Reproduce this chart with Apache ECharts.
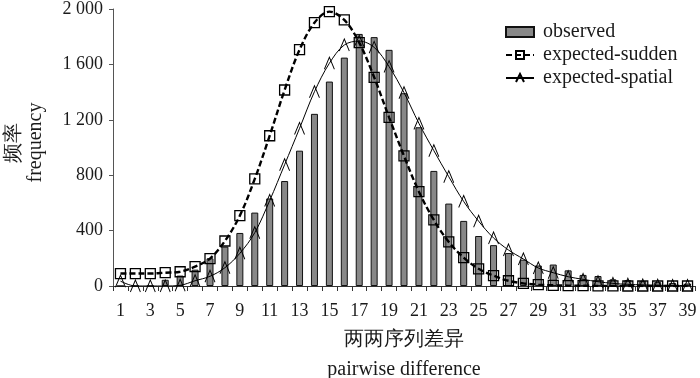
<!DOCTYPE html>
<html>
<head>
<meta charset="utf-8">
<script src="https://cdn.jsdelivr.net/npm/echarts@6/dist/echarts.min.js"></script>
<style>
html,body{margin:0;padding:0;background:#fff;}
#chart{width:700px;height:378px;}
</style>
</head>
<body>
<div id="chart"></div>
<script>
var categories = ['1','2','3','4','5','6','7','8','9','10','11','12','13','14','15','16','17','18','19','20','21','22','23','24','25','26','27','28','29','30','31','32','33','34','35','36','37','38','39'];
var observed = [0,0,0,45,75,118,200,284,383,530,632,758,977,1243,1476,1649,1820,1797,1705,1392,1146,831,595,470,361,295,238,190,148,155,113,80,72,48,42,35,28,22,18];
var expectedSudden = [90,90,90,96,103,140,198,325,508,773,1085,1415,1706,1901,1981,1921,1757,1507,1218,939,681,477,318,205,124,75,38,19,10,5,3,2,1,1,0,0,0,0,0];
var expectedSpatial = [35,0,0,0,5,38,70,132,236,385,617,876,1138,1403,1608,1740,1768,1723,1584,1396,1174,977,789,610,468,347,260,195,130,96,67,48,31,19,12,8,5,4,3];
var yTicks = [0,400,800,1200,1600,2000];
var seriesNames = ['observed','expected-sudden','expected-spatial'];

var serif = '"Liberation Serif", "Times New Roman", serif';
var chart = echarts.init(document.getElementById('chart'), null, {renderer:'canvas'});
chart.setOption({
  animation:false,
  backgroundColor:'#fff',
  textStyle:{fontFamily:serif,color:'#1a1a1a'},
  grid:{left:113,right:5,top:9,bottom:92,containLabel:false,outerBoundsMode:'none'},
  legend:{
    orient:'vertical',left:500,top:17,itemWidth:28,itemHeight:10,itemGap:3,
    textStyle:{fontFamily:serif,fontSize:20,color:'#1a1a1a',padding:[0,0,0,4]},
    data:[{name:seriesNames[0],icon:'rect'},{name:seriesNames[1]},{name:seriesNames[2]}]
  },
  xAxis:{
    type:'category',data:categories,boundaryGap:true,
    name:'两两序列差异\npairwise difference',nameLocation:'middle',nameGap:36,
    nameTextStyle:{fontFamily:serif,fontSize:20,color:'#1a1a1a',lineHeight:30},
    axisLine:{lineStyle:{color:'#333',width:1}},
    axisTick:{show:true,interval:0,length:5,lineStyle:{color:'#333'}},
    axisLabel:{interval:1,margin:16,fontFamily:serif,fontSize:18,color:'#1a1a1a'}
  },
  yAxis:{
    type:'value',min:yTicks[0],max:yTicks[yTicks.length-1],interval:400,
    name:'频率\nfrequency',nameLocation:'middle',nameRotate:90,nameGap:66,
    nameTextStyle:{fontFamily:serif,fontSize:20,color:'#1a1a1a',lineHeight:22,padding:[0,0,0,10]},
    axisLine:{show:true,lineStyle:{color:'#555',width:1}},
    axisTick:{show:true,length:4,lineStyle:{color:'#555'}},
    splitLine:{show:false},
    axisLabel:{margin:10,fontFamily:serif,fontSize:18,color:'#1a1a1a',
      formatter:function(v){return v>=1000?String(v).replace(/(\d)(\d{3})$/,'$1 $2'):String(v);}}
  },
  series:[
    {name:seriesNames[0],type:'bar',data:observed,barWidth:7,
      itemStyle:{color:'#888888',borderColor:'#111',borderWidth:1},z:1},
    {name:seriesNames[1],type:'line',data:expectedSudden,smooth:0.35,
      symbol:'rect',symbolSize:10,showAllSymbol:true,
      lineStyle:{color:'#000',width:2.4,type:[6,3]},
      itemStyle:{color:'rgba(255,255,255,0)',borderColor:'#000',borderWidth:1.3},z:3},
    {name:seriesNames[2],type:'line',data:expectedSpatial,smooth:0.35,
      symbol:'path://M0,12L5,0L10,12',symbolSize:[10,12],showAllSymbol:true,
      lineStyle:{color:'#000',width:1},
      itemStyle:{color:'rgba(255,255,255,0)',borderColor:'#000',borderWidth:1},z:4}
  ]
});
</script>
</body>
</html>
